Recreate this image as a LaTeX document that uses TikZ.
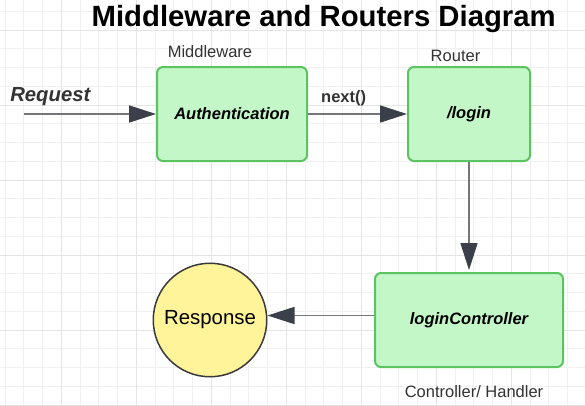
\documentclass[tikz,border=0pt]{standalone}
\usepackage{fontspec}
\setmainfont{Liberation Sans}
\usepackage{tikz}
\usetikzlibrary{positioning, arrows.meta}
\definecolor{boxfill}{HTML}{C3F7C8}
\definecolor{boxline}{HTML}{5BC460}
\definecolor{respfill}{HTML}{FFF49A}
\definecolor{respline}{HTML}{3A3A3A}
\definecolor{arrowline}{HTML}{74767C}
\definecolor{arrowhead}{HTML}{3A3F4A}
\definecolor{labeltext}{HTML}{333333}
\definecolor{gridminor}{HTML}{F0F0F0}
\definecolor{gridmajor}{HTML}{E4E4E4}
\tikzset{
    block/.style={
        draw=boxline,
        fill=boxfill,
        line width=2pt,
        rounded corners=6pt,
        minimum height=94pt,
        font=\fontsize{16.5}{19}\selectfont\bfseries\itshape
    },
    endpoint/.style={
        circle,
        draw=respline,
        fill=respfill,
        line width=1.5pt,
        minimum size=113.5pt,
        inner sep=0pt,
        font=\fontsize{20.4}{23}\selectfont
    },
    lbl/.style={
        anchor=base,
        inner sep=0pt,
        text=labeltext,
        font=\fontsize{16.5}{19}\selectfont
    },
    every edge/.style={
        draw,
        arrowline,
        line width=1.6pt,
        -{Triangle[length=27pt,width=17pt,color=arrowhead]}
    }
}

\begin{document}
\begin{tikzpicture}[x=1pt,y=-1pt]
	\useasboundingbox[fill=white] (0,0) rectangle (585,405);
	% background grid
	\foreach \gx in {5,23.75,...,585} \draw[gridminor,line width=0.9pt] (\gx,0) -- (\gx,405);
	\foreach \gy in {11.25,30,...,405} \draw[gridminor,line width=0.9pt] (0,\gy) -- (585,\gy);
	\foreach \gx in {61.25,136.25,...,585} \draw[gridmajor,line width=0.9pt] (\gx,0) -- (\gx,405);
	\foreach \gy in {30,105,...,405} \draw[gridmajor,line width=0.9pt] (0,\gy) -- (585,\gy);

	\node[anchor=base,inner sep=0pt,font=\fontsize{29.3}{33}\selectfont\bfseries] (title) at (323.7,26) {Middleware and Routers Diagram};

	\node[block,minimum width=150pt] (auth) at (232,114) {Authentication};
	\node[block,minimum width=122pt] (login) at (469,114) {/login};
	\node[block,minimum width=188pt] (ctrl) at (469,320) {loginController};
	\node[endpoint] (resp) at (210,320) {Response};
	\coordinate (req) at (24,114);

	\node[lbl] (mwlabel) at (210,57.3) {Middleware};
	\node[lbl] (routerlabel) at (455.5,61.7) {Router};
	\node[lbl] (ctrllabel) at (474,397.5) {Controller/ Handler};
	\node[lbl,font=\fontsize{20.3}{23}\selectfont\bfseries\itshape] (reqlabel) at (50.3,101.7) {Request};

	\draw
	(req) edge (auth)
	(auth) edge node[lbl,pos=0.36,above=7pt,font=\fontsize{16.5}{19}\selectfont\bfseries]{next()} (login)
	(login) edge[shorten >=2pt] (ctrl)
	([yshift=4.5pt]ctrl.west) edge ([yshift=4.5pt]resp.east);
\end{tikzpicture}
\end{document}
